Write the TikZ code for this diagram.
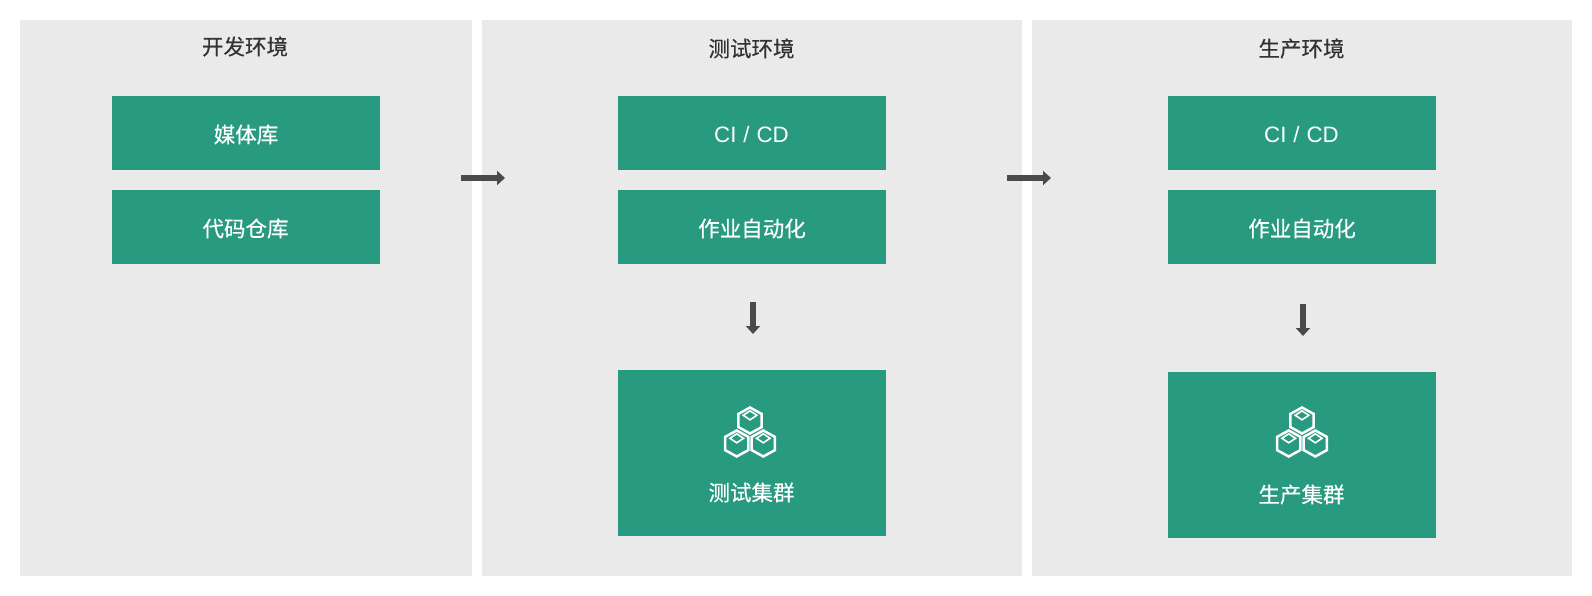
\documentclass[tikz,border=0pt]{standalone}
\usepackage{fontspec}
\setmainfont{Liberation Sans}
\newfontfamily\cjk[FakeBold=0.35]{Noto Sans CJK SC}
\newfontfamily\latinwide[WordSpace=1.12]{Liberation Sans}
\usetikzlibrary{arrows.meta}
\definecolor{panelgray}{HTML}{EAEAEA}
\definecolor{boxgreen}{HTML}{279A7F}
\definecolor{arrowgray}{HTML}{4A4A4A}
\definecolor{titlegray}{HTML}{333333}
\tikzset{
  panel/.style={fill=panelgray,draw=none,minimum height=556pt,inner sep=0pt,anchor=north west},
  title/.style={text=titlegray,font=\cjk\fontsize{21.5}{24}\selectfont,inner sep=0pt},
  greenbox/.style={fill=boxgreen,draw=none,minimum width=268pt,minimum height=73.5pt,inner sep=0pt},
  boxlabel/.style={text=white,inner sep=0pt,font=\cjk\fontsize{21.5}{24}\selectfont},
  latinlabel/.style={text=white,inner sep=0pt,font=\latinwide\fontsize{22.3}{24}\selectfont},
  clusterbox/.style={fill=boxgreen,draw=none,minimum width=268pt,minimum height=166pt,inner sep=0pt},
  fatarrow/.style={draw=arrowgray,line width=6.4pt,-{Triangle[length=8pt,width=14pt]}},
  iconline/.style={draw=white,line width=2.5pt,line join=miter},
  hexcell/.pic={
    \draw[iconline] (0,-13)--(11.6,-6.6)--(11.6,6.6)--(0,13)--(-11.6,6.6)--(-11.6,-6.6)--cycle;
    \draw[iconline,line width=1.6pt] (0,-9.7)--(6.8,-5.2)--(0,-0.7)--(-6.8,-5.2)--cycle;
  },
}
\begin{document}
\begin{tikzpicture}[x=1pt,y=-1pt]
\useasboundingbox (0,0) rectangle (1592,596);
\fill[white] (0,0) rectangle (1592,596);
\node[panel,minimum width=452pt] (p1) at (20,20) {};
\node[panel,minimum width=540pt] (p2) at (482,20) {};
\node[panel,minimum width=540pt] (p3) at (1032,20) {};
\node[title] (t1) at (245,46.5) {开发环境};
\node[title] (t2) at (751.5,48.5) {测试环境};
\node[title] (t3) at (1301.5,48.5) {生产环境};
\node[greenbox] (a1) at (246,133) {};
\node[boxlabel] (a1t) at (246,134.5) {媒体库};
\node[greenbox] (a2) at (246,227) {};
\node[boxlabel] (a2t) at (245.5,228.5) {代码仓库};
\node[greenbox] (b1) at (752,133) {};
\node[latinlabel] (b1t) at (751.5,134.5) {CI / CD};
\node[greenbox] (b2) at (752,227) {};
\node[boxlabel] (b2t) at (752,228.5) {作业自动化};
\node[clusterbox] (b3) at (752,453) {};
\node[boxlabel] (b3t) at (751.5,492.5) {测试集群};
\node[greenbox] (c1) at (1302,133) {};
\node[latinlabel] (c1t) at (1301.5,134.5) {CI / CD};
\node[greenbox] (c2) at (1302,227) {};
\node[boxlabel] (c2t) at (1302,228.5) {作业自动化};
\node[clusterbox] (c3) at (1302,455) {};
\node[boxlabel] (c3t) at (1301.5,494.5) {生产集群};
\pic at (750,420.5) {hexcell};
\pic at (736.7,443.5) {hexcell};
\pic at (763.3,443.5) {hexcell};
\pic at (1302,420.5) {hexcell};
\pic at (1288.7,443.5) {hexcell};
\pic at (1315.3,443.5) {hexcell};
\coordinate (h1s) at (461,178);
\coordinate (h1e) at (505,178);
\coordinate (h2s) at (1007,178);
\coordinate (h2e) at (1051,178);
\coordinate (d1s) at (753,302);
\coordinate (d1e) at (753,334);
\coordinate (d2s) at (1303,304);
\coordinate (d2e) at (1303,336);
\draw[fatarrow] (h1s)--(h1e);
\draw[fatarrow] (h2s)--(h2e);
\draw[fatarrow] (d1s)--(d1e);
\draw[fatarrow] (d2s)--(d2e);
\end{tikzpicture}
\end{document}
